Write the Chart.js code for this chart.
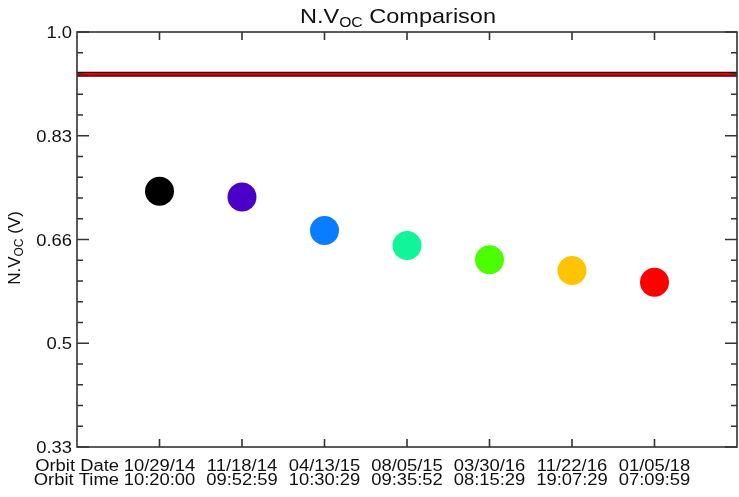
<!DOCTYPE html>
<html><head><meta charset="utf-8">
<script src="https://cdn.jsdelivr.net/npm/chart.js@4"></script>
<style>html,body{margin:0;padding:0;background:#fff}</style></head>
<body>
<canvas id="c" width="739" height="497"></canvas>
<script>
const orbitDates = ['10/29/14','11/18/14','04/13/15','08/05/15','03/30/16','11/22/16','01/05/18'];
const orbitTimes = ['10:20:00','09:52:59','10:30:29','09:35:52','08:15:29','19:07:29','07:09:59'];
const orbitIndex = [1,2,3,4,5,6,7];
const nvoc = [0.744,0.735,0.681,0.657,0.634,0.617,0.598];
const pointColors = ['#000000','#4a00c8','#0a7cff','#10f598','#4cff00','#ffc400','#ff0000'];
const referenceLevel = 0.932;
const yTickValues = [1/3, 0.5, 2/3, 5/6, 1.0];
const yTickLabels = ['0.33','0.5','0.66','0.83','1.0'];

const FONT = '"Liberation Sans", Arial, Helvetica, sans-serif';
const STRETCH = 1.15;

function stretchedText(ctx, txt, x, y, align, size, sx) {
  ctx.save();
  ctx.font = size + 'px ' + FONT;
  ctx.translate(x, y);
  ctx.scale(sx, 1);
  ctx.textAlign = align;
  ctx.fillText(txt, 0, 0);
  ctx.restore();
}

const decor = {
  id: 'decor',
  afterDraw(chart) {
    const ctx = chart.ctx;
    const xs = chart.scales.x, ys = chart.scales.y;
    const a = chart.chartArea;
    ctx.save();
    ctx.strokeStyle = '#333';
    ctx.lineWidth = 1.6;
    ctx.strokeRect(a.left, a.top, a.right - a.left, a.bottom - a.top);
    for (let k = 0; k <= 20; k++) {
      const v = 1/3 + k / 30;
      const py = ys.getPixelForValue(v);
      const len = (k % 5 === 0) ? 12 : 6;
      ctx.beginPath();
      ctx.moveTo(a.left, py); ctx.lineTo(a.left + len, py);
      ctx.moveTo(a.right, py); ctx.lineTo(a.right - len, py);
      ctx.stroke();
    }
    orbitIndex.forEach(i => {
      const px = xs.getPixelForValue(i);
      ctx.beginPath();
      ctx.moveTo(px, a.bottom); ctx.lineTo(px, a.bottom - 8);
      ctx.moveTo(px, a.top); ctx.lineTo(px, a.top + 8);
      ctx.stroke();
    });
    ctx.fillStyle = '#111';
    ctx.textBaseline = 'alphabetic';
    yTickValues.forEach((v, i) => {
      const py = ys.getPixelForValue(v);
      stretchedText(ctx, yTickLabels[i], 72, py + 6, 'right', 16, STRETCH);
    });
    orbitIndex.forEach((idx, i) => {
      const px = xs.getPixelForValue(idx);
      stretchedText(ctx, orbitDates[i], px, 471, 'center', 16, STRETCH);
      stretchedText(ctx, orbitTimes[i], px, 485, 'center', 16, STRETCH);
    });
    stretchedText(ctx, 'Orbit Date', 119, 471, 'right', 16, STRETCH);
    stretchedText(ctx, 'Orbit Time', 119, 485, 'right', 16, STRETCH);
    const tsx = 1.12;
    ctx.font = '21px ' + FONT;
    const w1 = ctx.measureText('N.V').width * tsx;
    const w3 = ctx.measureText(' Comparison').width * tsx;
    ctx.font = '14px ' + FONT;
    const w2 = ctx.measureText('OC').width * tsx;
    let x0 = 398 - (w1 + w2 + w3) / 2;
    stretchedText(ctx, 'N.V', x0, 23, 'left', 21, tsx);
    stretchedText(ctx, 'OC', x0 + w1, 27, 'left', 14, tsx);
    stretchedText(ctx, ' Comparison', x0 + w1 + w2, 23, 'left', 21, tsx);
    ctx.save();
    ctx.translate(20, 248);
    ctx.rotate(-Math.PI / 2);
    ctx.font = '17px ' + FONT;
    const a1 = ctx.measureText('N.V').width;
    const a3 = ctx.measureText(' (V)').width;
    ctx.font = '12px ' + FONT;
    const a2 = ctx.measureText('OC').width;
    let sx0 = -(a1 + a2 + a3) / 2;
    ctx.textAlign = 'left';
    ctx.font = '17px ' + FONT;
    ctx.fillText('N.V', sx0, 0);
    ctx.font = '12px ' + FONT;
    ctx.fillText('OC', sx0 + a1, 3);
    ctx.font = '17px ' + FONT;
    ctx.fillText(' (V)', sx0 + a1 + a2, 0);
    ctx.restore();
    ctx.restore();
  }
};

new Chart(document.getElementById('c'), {
  type: 'scatter',
  data: {
    datasets: [
      {
        type: 'line',
        data: [{x: 0, y: referenceLevel}, {x: 8, y: referenceLevel}],
        borderColor: '#3a0000', borderWidth: 5, pointRadius: 0, order: 3
      },
      {
        type: 'line',
        data: [{x: 0, y: referenceLevel}, {x: 8, y: referenceLevel}],
        borderColor: '#e00000', borderWidth: 2.5, pointRadius: 0, order: 2
      },
      {
        data: orbitIndex.map((x, i) => ({x, y: nvoc[i]})),
        pointRadius: 14.5,
        pointHoverRadius: 14.5,
        pointBackgroundColor: pointColors,
        pointBorderWidth: 0,
        borderWidth: 0,
        order: 1
      }
    ]
  },
  options: {
    responsive: false,
    animation: false,
    events: [],
    layout: { padding: { top: 32, right: 2, left: 0, bottom: 0 }, autoPadding: false },
    plugins: { legend: { display: false }, tooltip: { enabled: false }, title: { display: false } },
    scales: {
      x: {
        type: 'linear', min: 0, max: 8,
        grid: { display: false }, border: { display: false },
        ticks: { display: false },
        afterFit: s => { s.height = 50; }
      },
      y: {
        type: 'linear', min: 1/3, max: 1,
        grid: { display: false }, border: { display: false },
        ticks: { display: false },
        afterFit: s => { s.width = 77; }
      }
    }
  },
  plugins: [decor]
});
</script>
</body></html>
